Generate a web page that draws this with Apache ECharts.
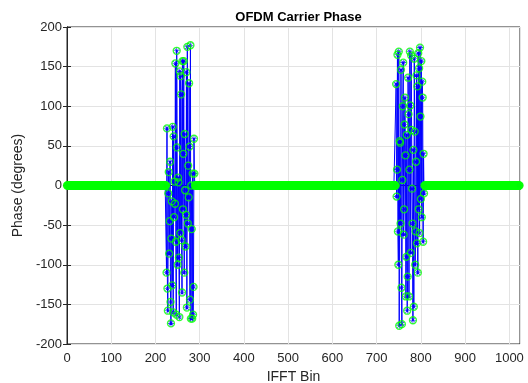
<!DOCTYPE html>
<html>
<head>
<meta charset="utf-8">
<script src="https://cdn.jsdelivr.net/npm/echarts@6/dist/echarts.min.js"></script>
<style>html,body{margin:0;padding:0;background:#fff;}#c{width:528px;height:383px;}</style>
</head>
<body>
<div id="c"></div>
<script>
// Chart data
const title = 'OFDM Carrier Phase';
const xLabel = 'IFFT Bin';
const yLabel = 'Phase (degrees)';
const binCount = 1024;
const xTicks = [0, 100, 200, 300, 400, 500, 600, 700, 800, 900, 1000];
const yTicks = [-200, -150, -100, -50, 0, 50, 100, 150, 200];
// occupied carriers: first block starts at bin 225, second at bin 744
const block1Start = 225;
const block1Phase = [-110, 72, -130, -158, -10, 17, -86, -45, 30, -147, -174, -67, -20, -126, 74, -160,
  62, -40, 5, -23, 154, -71, -163, 170, 48, -100, 10, 4, -91, -166, 144, -60,
  138, 115, -69, -135, 157, -30, 40, 157, -110, 65, -6, -77, -37, 143, -154, 175,
  -48, 25, -15, 129, 49, -144, 177, -168, 0, -55, -168, 15, -163, -128, 59, 15];
const block2Start = 744;
const block2Phase = [128, -14, 20, 165, -58, -100, 169, -177, 56, 54, -48, 146, -129, -175, 7, 100,
  155, -62, -30, 77, 111, 38, -140, -90, 64, -158, -115, 136, 90, -140, 20, 169,
  101, -85, 164, 70, -4, -48, -170, 45, -153, 160, 68, -100, -58, 30, 139, -73,
  125, -110, 167, -30, 148, -60, 174, 87, -17, 157, -40, 131, 111, -71, 40, -10];

const data = [];
for (let i = 0; i < binCount; i++) {
  let v = 0;
  if (i >= block1Start && i < block1Start + block1Phase.length) v = block1Phase[i - block1Start];
  else if (i >= block2Start && i < block2Start + block2Phase.length) v = block2Phase[i - block2Start];
  data.push([i, v]);
}

const asterisk = 'path://M-0.5,-5 L0.5,-5 L0.5,5 L-0.5,5 Z M-5,-0.5 L5,-0.5 L5,0.5 L-5,0.5 Z M-3.9,-3.2 L-3.2,-3.9 L3.9,3.2 L3.2,3.9 Z M3.2,-3.9 L3.9,-3.2 L-3.2,3.9 L-3.9,3.2 Z';
const font = 'Liberation Sans, Arial, Helvetica, sans-serif';
const txt = '#262626';

const chart = echarts.init(document.getElementById('c'), null, {renderer: 'canvas'});
const gridLines = {show: true, lineStyle: {color: '#e3e3e3', width: 1}};
chart.setOption({
  animation: false,
  title: {text: title, left: 293.5, textAlign: 'center', top: 6,
    textStyle: {fontFamily: font, fontSize: 13, fontWeight: 'bold', color: '#000'}},
  grid: {left: 67, right: 8, top: 27, bottom: 39, show: true, containLabel: false, outerBoundsMode: 'none',
    borderColor: '#262626', borderWidth: 1, backgroundColor: '#fff'},
  xAxis: [{
    type: 'value', min: 0, max: binCount, interval: 100,
    name: xLabel, nameLocation: 'middle', nameGap: 24,
    nameTextStyle: {fontFamily: font, fontSize: 14, color: txt},
    axisLine: {show: true, lineStyle: {color: '#262626'}},
    axisTick: {show: true, inside: true, length: 4, lineStyle: {color: '#262626'}},
    axisLabel: {fontFamily: font, fontSize: 13, color: txt, margin: 8, showMaxLabel: false,
      formatter: v => xTicks.indexOf(v) >= 0 ? String(v) : ''},
    splitLine: gridLines
  }, {
    type: 'value', min: 0, max: binCount, interval: 100, position: 'top',
    axisLine: {show: true, lineStyle: {color: '#262626'}},
    axisTick: {show: true, inside: true, length: 4, lineStyle: {color: '#262626'}},
    axisLabel: {show: false}, splitLine: {show: false}
  }],
  yAxis: [{
    type: 'value', min: -200, max: 200, interval: 50,
    name: yLabel, nameLocation: 'middle', nameGap: 28,
    nameTextStyle: {fontFamily: font, fontSize: 14, color: txt},
    axisLine: {show: true, lineStyle: {color: '#262626'}},
    axisTick: {show: true, inside: true, length: 4, lineStyle: {color: '#262626'}},
    axisLabel: {fontFamily: font, fontSize: 13, color: txt, margin: 5,
      formatter: v => yTicks.indexOf(v) >= 0 ? String(v) : ''},
    splitLine: gridLines
  }, {
    type: 'value', min: -200, max: 200, interval: 50, position: 'right',
    axisLine: {show: true, lineStyle: {color: '#262626'}},
    axisTick: {show: true, inside: true, length: 4, lineStyle: {color: '#262626'}},
    axisLabel: {show: false}, splitLine: {show: false}
  }],
  series: [{
    type: 'line', data: data, xAxisIndex: 0, yAxisIndex: 0,
    symbol: asterisk, symbolSize: 6, showSymbol: true, showAllSymbol: true,
    lineStyle: {color: '#0000ff', width: 1}, itemStyle: {color: '#0000ff'},
    sampling: null, silent: true, z: 2
  }, {
    type: 'scatter', data: data, xAxisIndex: 0, yAxisIndex: 0,
    symbol: 'circle', symbolSize: 7, large: false,
    itemStyle: {color: 'rgba(0,0,0,0)', borderColor: '#00ff00', borderWidth: 1.3},
    silent: true, z: 3
  }]
});
</script>
</body>
</html>
